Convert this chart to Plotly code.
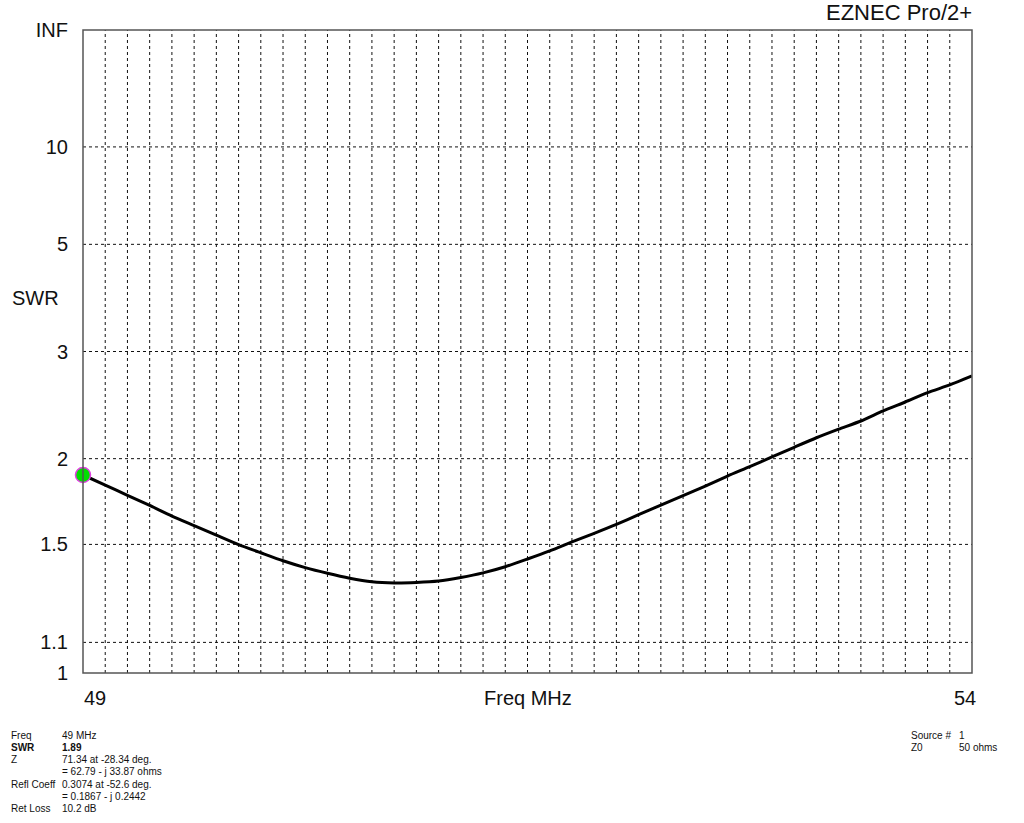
import plotly.graph_objects as go

# Frequency grid (MHz) and SWR
freq_mhz = [49 + 0.125 * k for k in range(41)]
swr = [1.890, 1.826, 1.764, 1.705, 1.646, 1.595, 1.546, 1.499, 1.460, 1.423,
       1.392, 1.367, 1.346, 1.331, 1.326, 1.328, 1.334, 1.349, 1.369, 1.396,
       1.431, 1.469, 1.512, 1.555, 1.601, 1.653, 1.707, 1.762, 1.819, 1.883,
       1.945, 2.012, 2.082, 2.154, 2.222, 2.289, 2.376, 2.457, 2.546, 2.623,
       2.717]

swr_ticks = [1, 1.1, 1.5, 2, 3, 5, 10, float("inf")]
swr_tick_text = ["1", "1.1", "1.5", "2", "3", "5", "10", "INF"]

marker_freq = [49]
marker_swr = [1.89]

info_labels = ["Freq", "<b>SWR</b>", "Z", "", "Refl Coeff", "", "Ret Loss"]
info_values = ["49 MHz", "<b>1.89</b>", "71.34 at -28.34 deg.", "= 62.79 - j 33.87 ohms",
               "0.3074 at -52.6 deg.", "= 0.1867 - j 0.2442", "10.2 dB"]
src_labels = ["Source #", "Z0"]
src_values = ["1", "50 ohms"]


def rho(s):
    if s == float("inf"):
        return 1.0
    return (s - 1) / (s + 1)


y_vals = [rho(s) for s in swr]
tick_vals = [rho(s) for s in swr_ticks]

fig = go.Figure()

# vertical grid lines every 0.125 MHz
for f in freq_mhz[1:-1]:
    fig.add_shape(type="line", x0=f, x1=f, y0=0, y1=1, xref="x", yref="y",
                  line=dict(color="#111111", width=1, dash="3px,3px"), layer="below")
# horizontal grid lines
for tv in tick_vals[1:-1]:
    fig.add_shape(type="line", x0=49, x1=54, y0=tv, y1=tv, xref="x", yref="y",
                  line=dict(color="#111111", width=1, dash="3px,3px"), layer="below")

fig.add_trace(go.Scatter(x=freq_mhz, y=y_vals, mode="lines",
                         line=dict(color="black", width=3, shape="spline", smoothing=0.6),
                         hoverinfo="skip", showlegend=False))
fig.add_trace(go.Scatter(x=marker_freq, y=[rho(s) for s in marker_swr], mode="markers",
                         marker=dict(size=15, color="#00e000",
                                     line=dict(color="#e040e0", width=1.5)),
                         showlegend=False, cliponaxis=False))

fig.add_shape(type="rect", x0=0, x1=1, y0=0, y1=1, xref="paper", yref="paper",
              line=dict(color="#555555", width=1.5))

font_main = dict(family="Arial, Liberation Sans, sans-serif", size=20, color="#111111")
font_title = dict(family="Arial, Liberation Sans, sans-serif", size=22, color="#111111")
font_small = dict(family="Arial, Liberation Sans, sans-serif", size=10, color="#111111")

W, H = 1024, 823
L, R, T, B = 83, 52, 30, 150
pw, ph = W - L - R, H - T - B


def px(xp):
    return (xp - L) / pw


def py(yp):
    return (H - B - yp) / ph


annotations = [
    dict(text="EZNEC Pro/2+", x=px(974), y=py(13), xref="paper", yref="paper",
         xanchor="right", yanchor="middle", showarrow=False, font=font_title),
    dict(text="SWR", x=px(35), y=py(298), xref="paper", yref="paper",
         xanchor="center", yanchor="middle", showarrow=False, font=font_main),
    dict(text="Freq MHz", x=51.5, y=py(698), xref="x", yref="paper",
         xanchor="center", yanchor="middle", showarrow=False, font=font_main),
    dict(text="49", x=px(95), y=py(698), xref="paper", yref="paper",
         xanchor="center", yanchor="middle", showarrow=False, font=font_main),
    dict(text="54", x=px(965), y=py(698), xref="paper", yref="paper",
         xanchor="center", yanchor="middle", showarrow=False, font=font_main),
]

line_h = 12.3
for i, (lab, val) in enumerate(zip(info_labels, info_values)):
    ypix = 735 + i * line_h
    if lab:
        annotations.append(dict(text=lab, x=px(9), y=py(ypix), xref="paper", yref="paper",
                                showarrow=False, font=font_small, xanchor="left", yanchor="middle"))
    annotations.append(dict(text=val, x=px(60), y=py(ypix), xref="paper", yref="paper",
                            showarrow=False, font=font_small, xanchor="left", yanchor="middle"))
for i, (lab, val) in enumerate(zip(src_labels, src_values)):
    ypix = 735 + i * line_h
    annotations.append(dict(text=lab, x=px(909), y=py(ypix), xref="paper", yref="paper",
                            showarrow=False, font=font_small, xanchor="left", yanchor="middle"))
    annotations.append(dict(text=val, x=px(957), y=py(ypix), xref="paper", yref="paper",
                            showarrow=False, font=font_small, xanchor="left", yanchor="middle"))

fig.update_layout(
    width=W, height=H,
    margin=dict(l=L, r=R, t=T, b=B),
    paper_bgcolor="white", plot_bgcolor="white",
    showlegend=False,
    annotations=annotations,
    xaxis=dict(range=[49, 54], showgrid=False, zeroline=False, showticklabels=False,
               showline=False, ticks="", fixedrange=True),
    yaxis=dict(range=[0, 1], showgrid=False, zeroline=False, tickvals=tick_vals,
               ticktext=swr_tick_text, tickfont=font_main, ticks="",
               ticklabelstandoff=14, showline=False, fixedrange=True),
)

fig.write_html("out.html", config={"displayModeBar": False},
               post_script="document.body.style.margin='0';document.body.style.overflow='hidden';")
